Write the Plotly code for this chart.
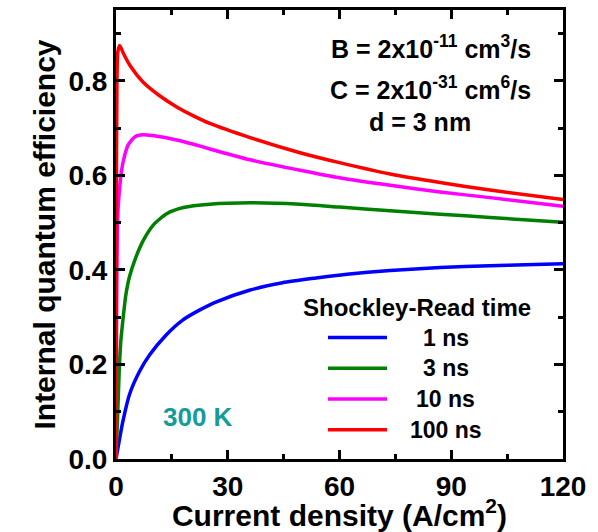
import plotly.graph_objects as go

# Current density (A/cm^2) and internal quantum efficiency for each Shockley-Read time
j_1ns = [0, 0.45, 0.9, 1.8, 3.6, 6.3, 9, 13.4, 17.9, 22.4, 26.8, 35.8, 44.7, 53.7, 62, 73.6, 87, 100.4, 110, 120]
iqe_1ns = [0, 0.02, 0.04, 0.078, 0.136, 0.185, 0.22, 0.262, 0.294, 0.315, 0.332, 0.357, 0.373, 0.383, 0.391, 0.399, 0.405, 0.409, 0.411, 0.413]

j_3ns = [0, 0.45, 0.9, 1.3, 1.8, 2.6, 3.6, 5.1, 7.3, 10, 13.6, 18.1, 25.2, 36, 49.4, 60, 73.6, 87, 100.4, 120]
iqe_3ns = [0, 0.094, 0.195, 0.25, 0.29, 0.345, 0.385, 0.422, 0.462, 0.495, 0.519, 0.532, 0.539, 0.542, 0.539, 0.533, 0.525, 0.518, 0.511, 0.501]

j_10ns = [0, 0.15, 0.35, 0.6, 1.0, 1.4, 2.0, 3.3, 5.1, 7.3, 11.8, 16.3, 20.8, 25.2, 36, 49.4, 60, 73.6, 87, 100.4, 120]
iqe_10ns = [0, 0.3, 0.48, 0.535, 0.575, 0.605, 0.632, 0.665, 0.682, 0.686, 0.682, 0.675, 0.666, 0.656, 0.633, 0.611, 0.595, 0.579, 0.565, 0.553, 0.535]

j_100ns = [0, 0.1, 0.25, 0.5, 1.0, 2.0, 3.8, 7.3, 11.8, 16.3, 20.8, 25.2, 36, 49.4, 60, 73.6, 87, 100.4, 120]
iqe_100ns = [0, 0.55, 0.8, 0.862, 0.875, 0.858, 0.832, 0.797, 0.768, 0.745, 0.726, 0.71, 0.68, 0.648, 0.627, 0.603, 0.585, 0.569, 0.549]

sr_labels = ["1 ns", "3 ns", "10 ns", "100 ns"]
sr_colors = ["#0000FF", "#008000", "#FF00FF", "#FF0000"]
series = [(j_1ns, iqe_1ns), (j_3ns, iqe_3ns), (j_10ns, iqe_10ns), (j_100ns, iqe_100ns)]

x_ticks = [0, 30, 60, 90, 120]
y_ticks = [0.0, 0.2, 0.4, 0.6, 0.8]

FONT = "Liberation Sans, Arial, sans-serif"
W, H = 598, 532
ML, MR, MT, MB = 116, 35, 7, 72
PW, PH = W - ML - MR, H - MT - MB


def px(x):
    return (x - ML) / PW


def py(y):
    return (H - MB - y) / PH


fig = go.Figure()
for (xs, ys), name, color in zip(series, sr_labels, sr_colors):
    fig.add_trace(go.Scatter(x=xs, y=ys, mode="lines", name=name,
                             line=dict(color=color, width=3.5, shape="spline", smoothing=0.6),
                             showlegend=False))

# Legend block: title, sample lines and centred labels
annotations = [
    dict(text="Shockley-Read time", x=px(416.5), y=py(307), xanchor="center", yanchor="middle",
         font=dict(size=24, color="black", family=FONT, weight="bold")),
]
shapes = []
for i, (name, color) in enumerate(zip(sr_labels, sr_colors)):
    yy = 337.5 + i * 31
    shapes.append(dict(type="line", xref="paper", yref="paper", x0=px(328), x1=px(387),
                       y0=py(yy), y1=py(yy), line=dict(color=color, width=3.5)))
    annotations.append(dict(text=name, x=px(445.5), y=py(yy), xanchor="center", yanchor="middle",
                            font=dict(size=23, color="black", family=FONT, weight="bold")))

# Model parameters
param_font = dict(size=25, color="black", family=FONT, weight="bold")
annotations += [
    dict(text="B = 2x10<sup>-11</sup> cm<sup>3</sup>/s", x=px(430.5), y=py(44), xanchor="center",
         yanchor="middle", font=param_font),
    dict(text="C = 2x10<sup>-31</sup> cm<sup>6</sup>/s", x=px(430.5), y=py(85.5), xanchor="center",
         yanchor="middle", font=param_font),
    dict(text="d = 3 nm", x=px(419.5), y=py(120), xanchor="center", yanchor="middle", font=param_font),
    dict(text="300 K", x=px(198), y=py(418), xanchor="center", yanchor="middle",
         font=dict(size=26, color="#139C99", family=FONT, weight="bold")),
]
for a in annotations:
    a.setdefault("xref", "paper")
    a.setdefault("yref", "paper")
    a["showarrow"] = False

axis_common = dict(
    showline=True, linecolor="black", linewidth=3, mirror="ticks",
    ticks="inside", ticklen=9, tickwidth=2.5, tickcolor="black",
    showgrid=False, zeroline=False,
    tickfont=dict(size=28, color="black", family=FONT, weight="bold"),
)

fig.update_layout(
    width=W, height=H,
    margin=dict(l=ML, r=MR, t=MT, b=MB),
    paper_bgcolor="white", plot_bgcolor="white",
    shapes=shapes, annotations=annotations,
    xaxis=dict(range=[0, 120], tickvals=x_ticks, ticktext=[str(v) for v in x_ticks],
               minor=dict(dtick=15, ticks="inside", ticklen=5, tickwidth=2.5, tickcolor="black"),
               title=dict(text="Current density (A/cm<sup>2</sup>)", standoff=2,
                          font=dict(size=30, color="black", family=FONT, weight="bold")),
               **axis_common),
    yaxis=dict(range=[0, 0.95], tickvals=y_ticks, ticktext=[f"{v:.1f}" for v in y_ticks],
               minor=dict(dtick=0.1, ticks="inside", ticklen=5, tickwidth=2.5, tickcolor="black"),
               title=dict(text="Internal quantum efficiency", standoff=4,
                          font=dict(size=30, color="black", family=FONT, weight="bold")),
               **axis_common),
)

fig.write_html("out.html")
